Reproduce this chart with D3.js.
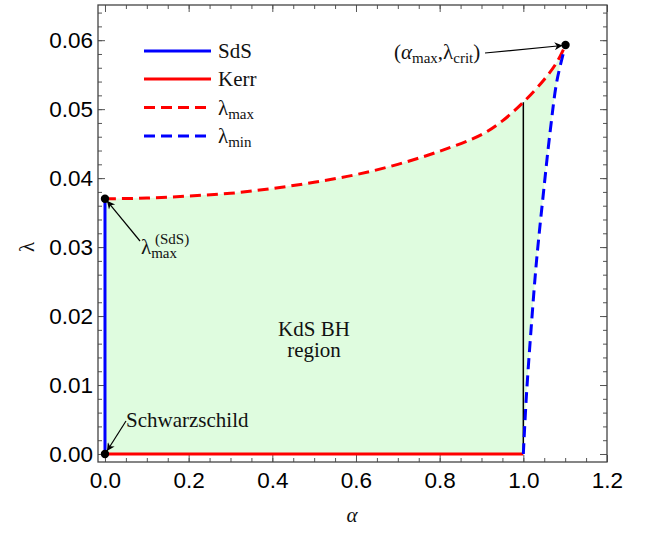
<!DOCTYPE html>
<html>
<head>
<meta charset="utf-8">
<script src="https://cdn.jsdelivr.net/npm/d3@7"></script>
<style>
  body { margin: 0; background: #fff; }
  svg { display: block; }
  .tick text { font-family: "Liberation Sans", Arial, sans-serif; font-size: 22.5px; fill: #000; }
  .lbl { font-family: "Liberation Serif", "Times New Roman", serif; font-size: 21px; fill: #111; }
</style>
</head>
<body>
<div class="chart"></div>
<script>
// lambda_max curve (alpha, lambda)
var maxAlpha = [0, 0.1, 0.2, 0.3, 0.4, 0.5, 0.6, 0.7, 0.8, 0.9, 0.95, 1.0, 1.05, 1.08, 1.1009];
var maxLambda = [0.0370, 0.0371, 0.0374, 0.0378, 0.0385, 0.0394, 0.0405, 0.0420, 0.0439, 0.0463, 0.0483, 0.0510, 0.0543, 0.0568, 0.0593];
// lambda_min curve
var minAlpha = [1.0, 1.0072, 1.0184, 1.0311, 1.0471, 1.0646, 1.0806, 1.1009];
var minLambda = [0, 0.0083, 0.0180, 0.0277, 0.0373, 0.0470, 0.0542, 0.0593];
// SdS and Kerr lines
var sdsLine = [[0, 0], [0, 0.0370]];
var kerrLine = [[0, 0], [1, 0]];
var extremalLine = [[1, 0], [1, 0.0510]];
// marked points
var dots = [[0, 0], [0, 0.0370], [1.1009, 0.0593]];

var xMajor = [0, 0.2, 0.4, 0.6, 0.8, 1.0, 1.2];
var xMinor = d3.range(0, 1.2001, 0.05);
var yMajor = [0, 0.01, 0.02, 0.03, 0.04, 0.05, 0.06];
var yMinor = d3.range(0, 0.0651, 0.002);

var width = 651, height = 533;
var pLeft = 98, pRight = 607, pTop = 5, pBottom = 462;

var svg = d3.select('.chart').append('svg').attr('width', width).attr('height', height);

var x = d3.scaleLinear().domain([-0.0167, 1.2]).range([pLeft, pRight]);
var y = d3.scaleLinear().domain([-0.00116, 0.0651]).range([pBottom, pTop]);

var maxPts = maxAlpha.map(function (a, i) { return [a, maxLambda[i]]; });
var minPts = minAlpha.map(function (a, i) { return [a, minLambda[i]]; });

var line = d3.line().x(function (d) { return x(d[0]); }).y(function (d) { return y(d[1]); })
  .curve(d3.curveCatmullRom.alpha(0.5));
var straight = d3.line().x(function (d) { return x(d[0]); }).y(function (d) { return y(d[1]); });

// arrow marker
var defs = svg.append('defs');
defs.append('marker').attr('id', 'arr').attr('viewBox', '0 0 10 10').attr('refX', 10).attr('refY', 5)
  .attr('markerWidth', 11).attr('markerHeight', 8).attr('markerUnits', 'userSpaceOnUse').attr('orient', 'auto')
  .append('path').attr('d', 'M0,0 L10,5 L0,10 L3,5 Z').attr('fill', '#000');

// green region
var regionPath = 'M' + x(0) + ',' + y(0) + 'L' + x(1) + ',' + y(0) +
  line(minPts).replace(/^M/, 'L') +
  line(maxPts.slice().reverse()).replace(/^M/, 'L') + 'Z';
svg.append('path').attr('d', regionPath).attr('fill', '#dffcdf').attr('stroke', 'none');

// axes with inward ticks
function addAxis(gen, vals, size, tf, tr) {
  var g = svg.append('g').attr('transform', tr)
    .call(gen.tickValues(vals).tickSize(size).tickPadding(6).tickFormat(tf));
  g.select('.domain').remove();
  g.selectAll('.tick line').attr('stroke', '#555').attr('stroke-width', 1);
  return g;
}
var none = function () { return ''; };
addAxis(d3.axisBottom(x), xMinor, -4, none, 'translate(0,' + pBottom + ')');
addAxis(d3.axisTop(x), xMinor, -4, none, 'translate(0,' + pTop + ')');
addAxis(d3.axisLeft(y), yMinor, -4, none, 'translate(' + pLeft + ',0)');
addAxis(d3.axisRight(y), yMinor, -4, none, 'translate(' + pRight + ',0)');
addAxis(d3.axisBottom(x), xMajor, -7, d3.format('.1f'), 'translate(0,' + pBottom + ')')
  .selectAll('.tick text').attr('dy', '0.95em').attr('y', 5);
addAxis(d3.axisTop(x), xMajor, -7, none, 'translate(0,' + pTop + ')');
addAxis(d3.axisLeft(y), yMajor, -7, d3.format('.2f'), 'translate(' + pLeft + ',0)')
  .selectAll('.tick text').attr('x', -5);
addAxis(d3.axisRight(y), yMajor, -7, none, 'translate(' + pRight + ',0)');

svg.append('rect').attr('x', pLeft).attr('y', pTop).attr('width', pRight - pLeft).attr('height', pBottom - pTop)
  .attr('fill', 'none').attr('stroke', '#444').attr('stroke-width', 1.3);

// curves
svg.append('path').attr('d', straight(extremalLine)).attr('stroke', '#000').attr('stroke-width', 1.5).attr('fill', 'none');
svg.append('path').attr('d', straight(kerrLine)).attr('stroke', '#ff0000').attr('stroke-width', 3).attr('fill', 'none');
svg.append('path').attr('d', straight(sdsLine)).attr('stroke', '#0000ff').attr('stroke-width', 3).attr('fill', 'none');
svg.append('path').attr('d', line(maxPts)).attr('stroke', '#ff0000').attr('stroke-width', 3)
  .attr('stroke-dasharray', '11,6').attr('fill', 'none');
svg.append('path').attr('d', line(minPts)).attr('stroke', '#0000ff').attr('stroke-width', 3)
  .attr('stroke-dasharray', '11,6').attr('fill', 'none');

// dots
svg.selectAll('circle.dot').data(dots).enter().append('circle').attr('class', 'dot')
  .attr('cx', function (d) { return x(d[0]); }).attr('cy', function (d) { return y(d[1]); })
  .attr('r', 4.2).attr('fill', '#000');

// annotation arrows
function arrow(x1, y1, x2, y2) {
  svg.append('line').attr('x1', x1).attr('y1', y1).attr('x2', x2).attr('y2', y2)
    .attr('stroke', '#000').attr('stroke-width', 1.2).attr('marker-end', 'url(#arr)');
}
arrow(485, 53, x(1.1009) - 3, y(0.0593) + 0.5);
arrow(140, 241, x(0) + 2, y(0.0370) + 2);
arrow(126, 421, x(0) + 2, y(0) - 3);

// labels
var t1 = svg.append('text').attr('class', 'lbl').attr('x', 394).attr('y', 59);
t1.append('tspan').text('(');
t1.append('tspan').attr('font-style', 'italic').text('α');
t1.append('tspan').attr('font-size', 15).attr('dy', 4).text('max');
t1.append('tspan').attr('dy', -4).text(',λ');
t1.append('tspan').attr('font-size', 15).attr('dy', 4).text('crit');
t1.append('tspan').attr('dy', -4).text(')');

var t2 = svg.append('text').attr('class', 'lbl').attr('x', 141).attr('y', 254);
t2.append('tspan').text('λ');
t2.append('tspan').attr('font-size', 15).attr('dy', 4).text('max');
t2.append('tspan').attr('font-size', 15).attr('x', 155).attr('dy', -14).text('(SdS)');

svg.append('text').attr('class', 'lbl').attr('x', 126).attr('y', 427).text('Schwarzschild');

var t3 = svg.append('text').attr('class', 'lbl').attr('x', 314).attr('y', 336).attr('text-anchor', 'middle');
t3.append('tspan').text('KdS BH');
t3.append('tspan').attr('x', 314).attr('dy', 21).text('region');

// legend
var legendNames = ['SdS', 'Kerr', 'λ', 'λ'];
var legendSubs = ['', '', 'max', 'min'];
var legendColors = ['#0000ff', '#ff0000', '#ff0000', '#0000ff'];
var legendDash = [null, null, '11,6', '11,6'];
var legendY = [51, 79, 107.5, 136];
legendNames.forEach(function (n, i) {
  svg.append('line').attr('x1', 144).attr('x2', 211).attr('y1', legendY[i]).attr('y2', legendY[i])
    .attr('stroke', legendColors[i]).attr('stroke-width', 2.8).attr('stroke-dasharray', legendDash[i]);
  var t = svg.append('text').attr('class', 'lbl').attr('x', 218).attr('y', legendY[i] + 7).text(n);
  if (legendSubs[i]) t.append('tspan').attr('font-size', 15).attr('dy', 4).text(legendSubs[i]);
});

// axis titles
svg.append('text').attr('class', 'lbl').attr('x', 352).attr('y', 522).attr('text-anchor', 'middle')
  .attr('font-size', 23).attr('font-style', 'italic').text('α');
svg.append('text').attr('class', 'lbl').attr('transform', 'translate(34,247) rotate(-90)')
  .attr('font-size', 23).attr('text-anchor', 'middle').text('λ');
</script>
</body>
</html>
